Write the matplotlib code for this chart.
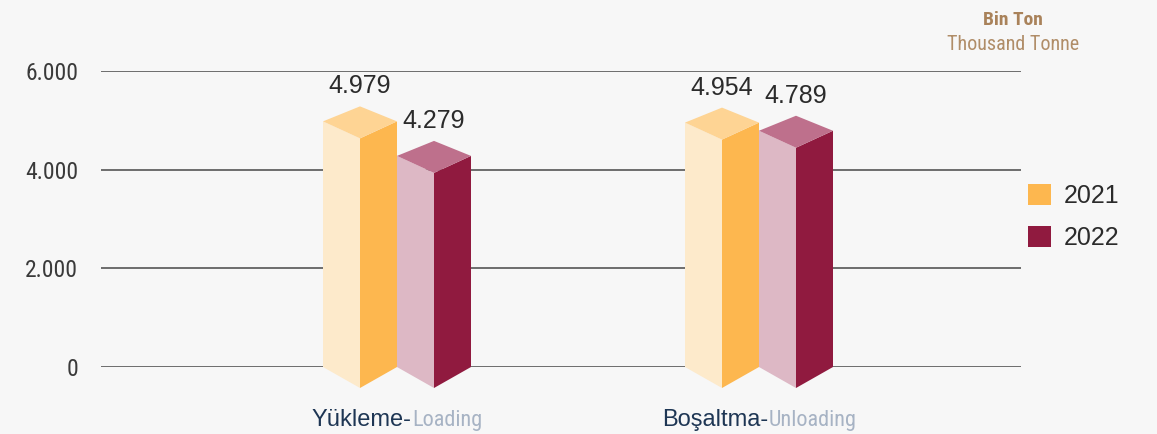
import matplotlib
matplotlib.use("Agg")
import matplotlib.pyplot as plt
import matplotlib.transforms as mtransforms
from matplotlib.patches import Patch
from matplotlib import font_manager

# ---------------- data ----------------
categories_tr = ["Yükleme-", "Boşaltma-"]
categories_en = ["Loading", "Unloading"]
years = ["2021", "2022"]
values_2021 = [4979, 4954]
values_2022 = [4279, 4789]
value_labels_2021 = ["4.979", "4.954"]
value_labels_2022 = ["4.279", "4.789"]
y_ticks = [0, 2000, 4000, 6000]
y_tick_labels = ["0", "2.000", "4.000", "6.000"]
unit_tr = "Bin Ton"
unit_en = "Thousand Tonne"

# ---------------- style ----------------
W, H, DPI = 1157, 434, 100
BG = "#f7f7f7"
colors = {
    "2021": {"front": "#fdeacb", "side": "#fdb74f", "top": "#fed494"},
    "2022": {"front": "#ddb8c5", "side": "#901a3f", "top": "#be708c"},
}
SANS = ["Liberation Sans", "DejaVu Sans"]

names = sorted({(f.name, f.stretch, f.weight) for f in font_manager.fontManager.ttflist})
narrow_candidates = ["Liberation Sans Narrow", "Roboto Condensed", "Open Sans Condensed",
                     "DejaVu Sans Condensed"]
installed = {f.name for f in font_manager.fontManager.ttflist}
NARROW_FAMILY = None
for n in narrow_candidates:
    if n in installed:
        NARROW_FAMILY = n
        break
cond_dejavu = any(f.name == "DejaVu Sans" and str(f.stretch) in ("condensed", "semi-condensed", "400", "500")
                  and "Condensed" in f.fname for f in font_manager.fontManager.ttflist)
if NARROW_FAMILY is not None:
    NARROW = dict(family=[NARROW_FAMILY, "DejaVu Sans"])
else:
    NARROW = dict(family=["DejaVu Sans"], stretch="condensed")

fig = plt.figure(figsize=(W / DPI, H / DPI), dpi=DPI, facecolor=BG)
ax_left, ax_right, ax_top, ax_bot = 101, 1021, 71, 367
ax = fig.add_axes([ax_left / W, 1 - ax_bot / H,
                   (ax_right - ax_left) / W, (ax_bot - ax_top) / H])
ax.set_facecolor(BG)

px_per_unit_x = 362.0
xlim = (0 - (397 - ax_left) / px_per_unit_x, 1 + (ax_right - 759) / px_per_unit_x)
ax.set_xlim(*xlim)
ax.set_ylim(0, 6000)
data_per_px = 6000 / (ax_bot - ax_top)

half_w = 37 / px_per_unit_x
d_top_front = 17 * data_per_px
d_top_back = 15 * data_per_px
d_bot_front = 21 * data_per_px

for s in ax.spines.values():
    s.set_visible(False)
ax.set_xticks([])
ax.set_yticks(y_ticks)
ax.set_yticklabels(y_tick_labels, fontsize=17, color="#3a3a3a", **NARROW)
ax.tick_params(axis="y", length=0, pad=16.5)
ax.grid(axis="y", color="#6d6d6d", linewidth=1.4, zorder=0)
ax.set_axisbelow(True)


def draw_bar(xl, v, c):
    xf = xl + half_w
    xr = xl + 2 * half_w
    ax.fill([xl, xl, xf, xf], [0, v, v - d_top_front, -d_bot_front],
            color=c["front"], zorder=3, clip_on=False, linewidth=0)
    ax.fill([xf, xf, xr, xr], [-d_bot_front, v - d_top_front, v, 0],
            color=c["side"], zorder=3, clip_on=False, linewidth=0)
    ax.fill([xl, xf, xr, xf], [v, v + d_top_back, v, v - d_top_front],
            color=c["top"], zorder=3, clip_on=False, linewidth=0)
    return xf


series = [("2021", values_2021, value_labels_2021),
          ("2022", values_2022, value_labels_2022)]
for gi in range(len(categories_tr)):
    for si, (yr, vals, labs) in enumerate(series):
        xl = gi - 2 * half_w + si * 2 * half_w
        v = vals[gi]
        xf = draw_bar(xl, v, colors[yr])
        ax.text(xf, v + d_top_back + 20 * data_per_px, labs[gi],
                ha="center", va="center", fontsize=18, family=SANS,
                color="#2b2b2b", clip_on=False, zorder=4)

# category labels (two coloured parts, centred together)
fig.canvas.draw()
renderer = fig.canvas.get_renderer()
trans = mtransforms.blended_transform_factory(ax.transData, ax.transAxes)
for gi in range(len(categories_tr)):
    t1 = ax.text(gi, -0.199, categories_tr[gi], transform=trans, ha="left",
                 va="baseline", fontsize=17, family=SANS, color="#1e3654")
    t2 = ax.text(gi, -0.199, categories_en[gi], transform=trans, ha="left",
                 va="baseline", fontsize=16, color="#a7b3c4", **NARROW)
    w1 = t1.get_window_extent(renderer).width
    w2 = t2.get_window_extent(renderer).width
    total = w1 + w2
    t1.set_transform(trans + mtransforms.ScaledTranslation(-total / 2 / DPI, 0, fig.dpi_scale_trans))
    t2.set_transform(trans + mtransforms.ScaledTranslation((-total / 2 + w1) / DPI, 0, fig.dpi_scale_trans))

# unit text
fig.text(1013 / W, 1 - 20 / H, unit_tr, ha="center", va="center",
         fontsize=14, fontweight="bold", color="#a9825a", **NARROW)
fig.text(1013 / W, 1 - 45 / H, unit_en, ha="center", va="center",
         fontsize=14.5, color="#b08d68", **NARROW)

# legend
handles = [Patch(facecolor=colors[y]["side"], edgecolor="none", label=y) for y in years]
leg = fig.legend(handles=handles, loc="upper left",
                 bbox_to_anchor=(1028 / W, 1 - 184 / H), frameon=False,
                 prop={"family": SANS, "size": 18}, handlelength=0.92,
                 handleheight=0.92, handletextpad=0.5, labelspacing=0.7,
                 borderpad=0, borderaxespad=0)
for t in leg.get_texts():
    t.set_color("#2b2b2b")

fig.savefig("out.png", dpi=DPI, facecolor=BG)
